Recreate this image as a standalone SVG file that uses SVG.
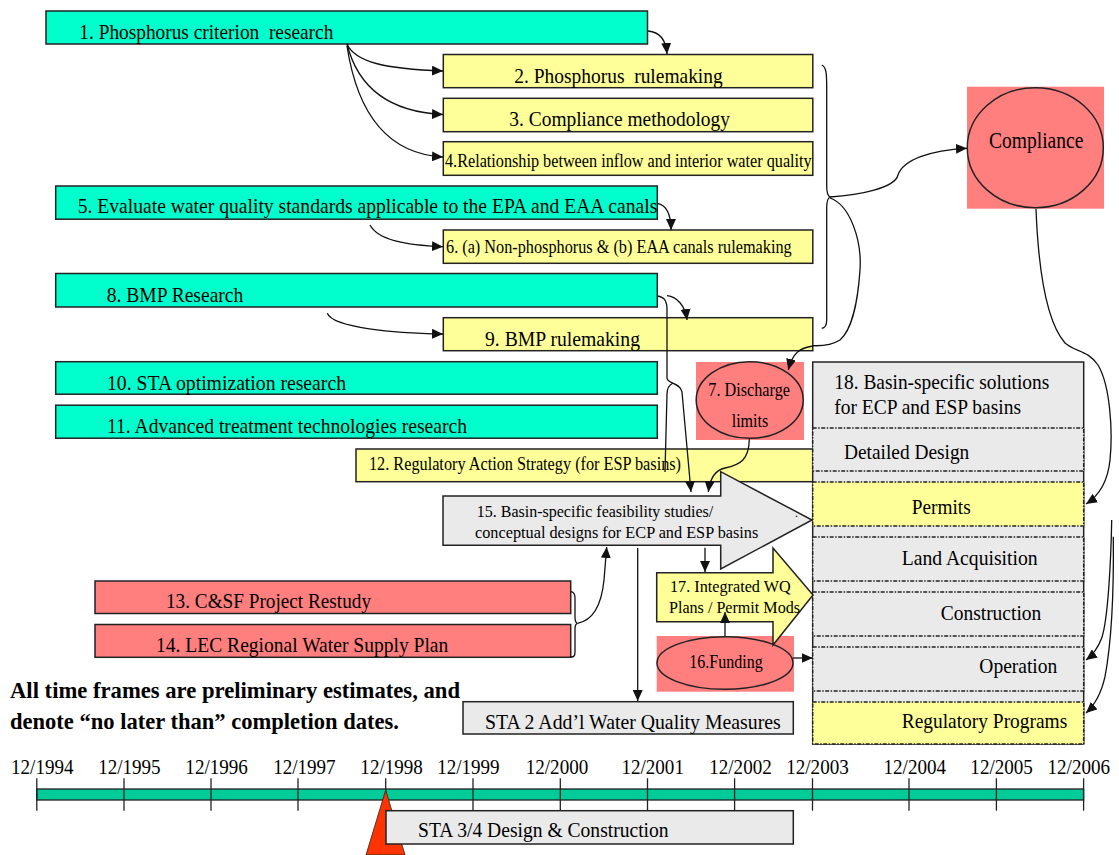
<svg xmlns="http://www.w3.org/2000/svg" width="1119" height="855" viewBox="0 0 1119 855">
<style>
.cy{fill:#00FFCC;stroke:#222;stroke-width:1.5}
.ye{fill:#FFFF99;stroke:#222;stroke-width:1.5}
.pk{fill:#FF7F7F;stroke:#222;stroke-width:1.5}
.gr{fill:#EAEAEA;stroke:#222;stroke-width:1.5}
.ds{stroke-dasharray:4 1.5 1.5 1.5}
.bg{fill:#FF7F7F;stroke:none}
.t{font-family:"Liberation Serif","Times New Roman",serif;fill:#000;font-size:21px}
.s{font-size:18px}
.m{font-size:17.5px}
.b{font-weight:bold;font-size:23px}
.c{fill:none;stroke:#111;stroke-width:1.3}
.tk{stroke:#222;stroke-width:1.3}
</style>
<defs>
<marker id="ah" markerUnits="userSpaceOnUse" markerWidth="12" markerHeight="10" refX="11" refY="5" orient="auto">
<path d="M0,0 L11,5 L0,10 z" fill="#111"/>
</marker>
</defs>
<rect width="1119" height="855" fill="#fff"/>

<g id="n1"><rect class="cy" x="46" y="11" width="601.5" height="33"/>
<text class="t" x="79.3" y="39" textLength="254" lengthAdjust="spacingAndGlyphs" xml:space="preserve">1. Phosphorus criterion  research</text></g>

<g id="n2"><rect class="ye" x="443.3" y="54.5" width="369.5" height="33.2"/>
<text class="t" x="514.3" y="82.5" textLength="208.4" lengthAdjust="spacingAndGlyphs" xml:space="preserve">2. Phosphorus  rulemaking</text></g>

<g id="n3"><rect class="ye" x="443.3" y="98.3" width="369.5" height="33.4"/>
<text class="t" x="509.3" y="125.5" textLength="220.7" lengthAdjust="spacingAndGlyphs">3. Compliance methodology</text></g>

<g id="n4"><rect class="ye" x="443.3" y="141.7" width="369.5" height="33.6"/>
<text class="t s" x="445" y="167" textLength="366.7" lengthAdjust="spacingAndGlyphs">4.Relationship between inflow and interior water quality</text></g>

<g id="n5"><rect class="cy" x="55.7" y="186" width="601.6" height="33.2"/>
<text class="t" x="77.7" y="213" textLength="579.6" lengthAdjust="spacingAndGlyphs">5. Evaluate water quality standards applicable to the EPA and EAA canals</text></g>

<g id="n6"><rect class="ye" x="443.3" y="230" width="369.5" height="33.3"/>
<text class="t s" x="446" y="253" textLength="345.7" lengthAdjust="spacingAndGlyphs">6. (a) Non-phosphorus &amp; (b) EAA canals rulemaking</text></g>

<g id="n8"><rect class="cy" x="55.7" y="273.5" width="601.6" height="33.5"/>
<text class="t" x="106.7" y="301.5" textLength="136.6" lengthAdjust="spacingAndGlyphs">8. BMP Research</text></g>

<g id="n9"><rect class="ye" x="443.3" y="317.7" width="369.5" height="33"/>
<text class="t" x="485" y="345.5" textLength="155" lengthAdjust="spacingAndGlyphs">9. BMP rulemaking</text></g>

<g id="n10"><rect class="cy" x="55.7" y="361.7" width="601.6" height="32.5"/>
<text class="t" x="107" y="389.5" textLength="239" lengthAdjust="spacingAndGlyphs">10. STA optimization research</text></g>

<g id="n11"><rect class="cy" x="55.7" y="405.2" width="601.6" height="33"/>
<text class="t" x="107" y="433" textLength="360" lengthAdjust="spacingAndGlyphs">11. Advanced treatment technologies research</text></g>

<g id="n12"><rect class="ye" x="356" y="449" width="456.8" height="32.7"/>
<text class="t s" x="369" y="470" textLength="312" lengthAdjust="spacingAndGlyphs">12. Regulatory Action Strategy (for ESP basins)</text></g>

<g id="n7"><rect class="bg" x="696" y="362" width="108" height="78"/>
<ellipse class="pk" cx="749.7" cy="400" rx="53.5" ry="38.3"/>
<text class="t" style="font-size:19px" x="708.3" y="396" textLength="81.7" lengthAdjust="spacingAndGlyphs">7. Discharge</text>
<text class="t" style="font-size:19px" x="731.7" y="427" textLength="36.6" lengthAdjust="spacingAndGlyphs">limits</text></g>

<g id="compliance"><rect class="bg" x="967" y="86.7" width="137" height="122"/>
<ellipse class="pk" cx="1035.3" cy="147.7" rx="68" ry="60"/>
<text class="t" style="font-size:23px" x="989" y="148" textLength="94.3" lengthAdjust="spacingAndGlyphs">Compliance</text></g>

<g id="n18">
<rect class="gr" x="812.7" y="362" width="271" height="382"/>
<text class="t" x="834.3" y="389" textLength="215" lengthAdjust="spacingAndGlyphs">18. Basin-specific solutions</text>
<text class="t" x="834.3" y="414" textLength="186.7" lengthAdjust="spacingAndGlyphs">for ECP and ESP basins</text>
<rect class="gr ds" x="812.7" y="428" width="271" height="43"/>
<text class="t" x="844" y="459" textLength="125.3" lengthAdjust="spacingAndGlyphs">Detailed Design</text>
<rect class="ye ds" x="812.7" y="482" width="271" height="44"/>
<text class="t" x="911.7" y="514" textLength="59" lengthAdjust="spacingAndGlyphs">Permits</text>
<rect class="gr ds" x="812.7" y="537" width="271" height="44"/>
<text class="t" x="901.7" y="565" textLength="136" lengthAdjust="spacingAndGlyphs">Land Acquisition</text>
<rect class="gr ds" x="812.7" y="592" width="271" height="44"/>
<text class="t" x="940.7" y="620" textLength="100.6" lengthAdjust="spacingAndGlyphs">Construction</text>
<rect class="gr ds" x="812.7" y="647" width="271" height="44"/>
<text class="t" x="979.3" y="673.3" textLength="78" lengthAdjust="spacingAndGlyphs">Operation</text>
<rect class="ye ds" x="812.7" y="702" width="271" height="42"/>
<text class="t" x="901.7" y="728.3" textLength="165.6" lengthAdjust="spacingAndGlyphs">Regulatory Programs</text>
</g>

<g id="n15"><path class="gr" d="M443,496 L720.7,496 L720.7,471.7 L812,520 L720.7,569 L720.7,545.3 L443,545.3 z"/>
<text class="t m" x="476.7" y="517" textLength="236.6" lengthAdjust="spacingAndGlyphs">15. Basin-specific feasibility studies/</text>
<text class="t m" x="475" y="538" textLength="283.3" lengthAdjust="spacingAndGlyphs">conceptual designs for ECP and ESP basins</text>
<text class="t" style="font-size:12px" x="795" y="517">.</text></g>

<g id="n13"><rect class="pk" x="95" y="581" width="475.7" height="32.5"/>
<text class="t" x="166" y="608" textLength="205" lengthAdjust="spacingAndGlyphs">13. C&amp;SF Project Restudy</text></g>

<g id="n14"><rect class="pk" x="95" y="624.5" width="475.7" height="32.8"/>
<text class="t" x="156" y="651.7" textLength="292.3" lengthAdjust="spacingAndGlyphs">14. LEC Regional Water Supply Plan</text></g>

<g id="n16"><rect class="bg" x="656.7" y="636" width="137.3" height="55.7"/>
<ellipse class="pk" cx="725" cy="663" rx="68" ry="26.3"/>
<text class="t" style="font-size:19px" x="689.3" y="668" textLength="73.4" lengthAdjust="spacingAndGlyphs">16.Funding</text></g>

<g id="n17"><path class="ye" d="M656.7,572.7 L773,572.7 L773,548 L813,595 L773,645 L773,621.7 L656.7,621.7 z"/>
<text class="t m" x="670" y="591.7" textLength="120.7" lengthAdjust="spacingAndGlyphs">17. Integrated WQ</text>
<text class="t m" x="669" y="613" textLength="131" lengthAdjust="spacingAndGlyphs">Plans / Permit Mods</text></g>

<g id="sta2"><rect class="gr" x="463" y="701.7" width="330.3" height="32.3"/>
<text class="t" x="485" y="729" textLength="295.7" lengthAdjust="spacingAndGlyphs">STA 2 Add’l Water Quality Measures</text></g>

<g id="note">
<text class="t b" x="10" y="698" textLength="450" lengthAdjust="spacingAndGlyphs">All time frames are preliminary estimates, and</text>
<text class="t b" x="10" y="729" textLength="389" lengthAdjust="spacingAndGlyphs">denote “no later than” completion dates.</text>
</g>

<g id="timeline">
<rect x="36.8" y="789" width="1046.8" height="11" fill="#00CC99" stroke="#222" stroke-width="1.3"/>
<g class="tk">
<line x1="36.8" y1="778.3" x2="36.8" y2="810.7"/>
<line x1="124" y1="778.3" x2="124" y2="810.7"/>
<line x1="211" y1="778.3" x2="211" y2="810.7"/>
<line x1="298" y1="778.3" x2="298" y2="810.7"/>
<line x1="385.7" y1="778.3" x2="385.7" y2="810.7"/>
<line x1="473" y1="778.3" x2="473" y2="810.7"/>
<line x1="560.3" y1="778.3" x2="560.3" y2="810.7"/>
<line x1="647.5" y1="778.3" x2="647.5" y2="810.7"/>
<line x1="734.6" y1="778.3" x2="734.6" y2="810.7"/>
<line x1="812.5" y1="778.3" x2="812.5" y2="810.7"/>
<line x1="909" y1="778.3" x2="909" y2="810.7"/>
<line x1="996.4" y1="778.3" x2="996.4" y2="810.7"/>
<line x1="1083.6" y1="778.3" x2="1083.6" y2="810.7"/>
</g>
<g class="t" text-anchor="middle">
<text x="42.3" y="773.5" textLength="62.5" lengthAdjust="spacingAndGlyphs">12/1994</text>
<text x="129.4" y="773.5" textLength="62.5" lengthAdjust="spacingAndGlyphs">12/1995</text>
<text x="216.6" y="773.5" textLength="62.5" lengthAdjust="spacingAndGlyphs">12/1996</text>
<text x="304.4" y="773.5" textLength="62.5" lengthAdjust="spacingAndGlyphs">12/1997</text>
<text x="391.6" y="773.5" textLength="62.5" lengthAdjust="spacingAndGlyphs">12/1998</text>
<text x="468.4" y="773.5" textLength="62.5" lengthAdjust="spacingAndGlyphs">12/1999</text>
<text x="557" y="773.5" textLength="62.5" lengthAdjust="spacingAndGlyphs">12/2000</text>
<text x="652.7" y="773.5" textLength="62.5" lengthAdjust="spacingAndGlyphs">12/2001</text>
<text x="740.5" y="773.5" textLength="62.5" lengthAdjust="spacingAndGlyphs">12/2002</text>
<text x="817.5" y="773.5" textLength="62.5" lengthAdjust="spacingAndGlyphs">12/2003</text>
<text x="914.8" y="773.5" textLength="62.5" lengthAdjust="spacingAndGlyphs">12/2004</text>
<text x="1001.6" y="773.5" textLength="62.5" lengthAdjust="spacingAndGlyphs">12/2005</text>
<text x="1078.8" y="773.5" textLength="62.5" lengthAdjust="spacingAndGlyphs">12/2006</text>
</g>
<path d="M385.7,790 L405,855 L366,855 z" fill="#FF3300" stroke="#222" stroke-width="0.8"/>
</g>

<g id="sta34"><rect class="gr" x="386" y="810.7" width="407.3" height="33.3"/>
<text class="t" x="418" y="836.7" textLength="250.6" lengthAdjust="spacingAndGlyphs">STA 3/4 Design &amp; Construction</text></g>

<g id="connectors">
<path class="c" marker-end="url(#ah)" d="M648,31 C660,32 666,40 667,54"/>
<path class="c" marker-end="url(#ah)" d="M347,44 C355,62 385,69 443,71"/>
<path class="c" marker-end="url(#ah)" d="M347,44 C358,88 390,112 443,114.5"/>
<path class="c" marker-end="url(#ah)" d="M347,46 C358,118 390,154 443,157"/>
<path class="c" marker-end="url(#ah)" d="M657.3,203.3 C666,205 671,214 671,230"/>
<path class="c" marker-end="url(#ah)" d="M370,225 C378,240 405,245 443,246.7"/>
<path class="c" marker-end="url(#ah)" d="M327.3,313.3 C333,328 395,333 443,334"/>
<path class="c" marker-end="url(#ah)" d="M667,295.7 C677,297 685,305 687,320"/>
<path class="c" marker-end="url(#ah)" d="M657.3,296 C664,297 667,300 667,310 L667,378 C667,384 680,382 682,392 L691,492"/>
<path class="c" d="M673,383 C669,385 667,388 667,394 L665,472"/>
<path class="c" marker-end="url(#ah)" d="M813,346 C800,348 793,352 788.3,370"/>
<path class="c" marker-end="url(#ah)" d="M749.3,439.3 C749,460 740,465 725,468 C715,470 710,478 708.3,492"/>
<path class="c" d="M821.7,65 C826,67 826.7,72 826.7,87 L826.7,186 C826.7,192 828,196 830,197 C828,198 826.7,202 826.7,208 L826.7,320 C826.7,325 825,328 821.7,328.3"/>
<path class="c" marker-end="url(#ah)" d="M830,197 C860,195 895,188 898,175 C903,160 930,150 967,148.3"/>
<path class="c" d="M830,198 C850,205 862,240 860,270 C858,300 852,330 840,340 C832,345 820,346 812.7,345.7"/>
<path class="c" marker-end="url(#ah)" d="M1036,209 C1038,260 1045,320 1065,343 C1075,352 1088,350 1098,365 C1110,385 1113,430 1110,460 C1108,480 1100,495 1086,504"/>
<path class="c" marker-end="url(#ah)" d="M1111.7,520 C1111,560 1108,620 1101.7,638 C1098,648 1094,654 1086,660"/>
<path class="c" marker-end="url(#ah)" d="M1113.3,536.7 C1114,600 1110,650 1105,676.7 C1102,690 1096,704 1086,713"/>
<path class="c" marker-end="url(#ah)" d="M637.7,548 L637.7,701"/>
<path class="c" marker-end="url(#ah)" d="M705,547.7 L705,572"/>
<path class="c" marker-end="url(#ah)" d="M725,636 L725,612"/>
<path class="c" marker-end="url(#ah)" d="M793,658 L812.7,658"/>
<path class="c" d="M570.7,591.7 C574,592 575,594 575,598 L575,617 C575,621 576,623 577.5,623.3 C576,623.6 575,626 575,629 L575,652 C575,656 574,657 570.7,657"/>
<path class="c" marker-end="url(#ah)" d="M577.5,623.3 C595,620 602,600 604,580 L606.7,547"/>
</g>
</svg>
